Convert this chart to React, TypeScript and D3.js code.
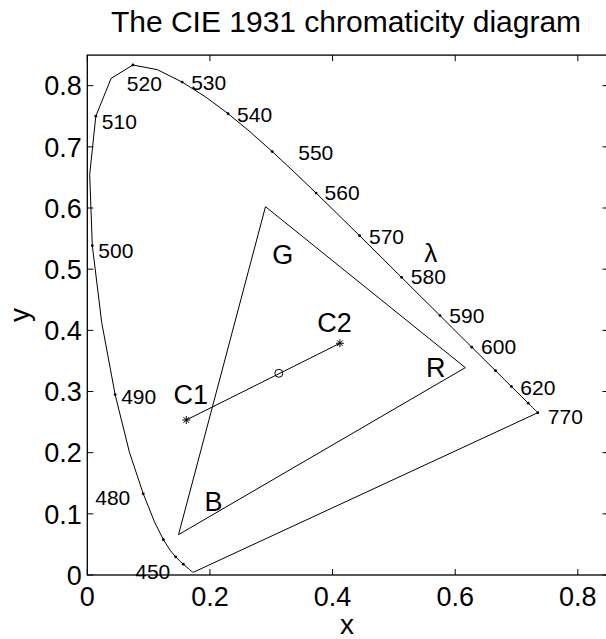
import React from "react";
import * as d3 from "d3";

// CIE 1931 2° spectral locus (x, y) at 5 nm steps, 380–700 nm, closed at 770 nm
const locusNm = [
  380, 385, 390, 395, 400, 405, 410, 415, 420, 425, 430, 435, 440, 445, 450, 455, 460, 465, 470, 475,
  480, 485, 490, 495, 500, 505, 510, 515, 520, 525, 530, 535, 540, 545, 550, 555, 560, 565, 570, 575,
  580, 585, 590, 595, 600, 605, 610, 615, 620, 625, 630, 635, 640, 645, 650, 655, 660, 665, 670, 675,
  680, 685, 690, 695, 700, 770,
];
const locusX = [
  0.1741, 0.174, 0.1738, 0.1736, 0.1733, 0.173, 0.1726, 0.1721, 0.1714, 0.1703, 0.1689, 0.1669, 0.1644,
  0.1611, 0.1566, 0.151, 0.144, 0.1355, 0.1241, 0.1096, 0.0913, 0.0687, 0.0454, 0.0235, 0.0082, 0.0039,
  0.0139, 0.0389, 0.0743, 0.1142, 0.1547, 0.1929, 0.2296, 0.2658, 0.3016, 0.3373, 0.3731, 0.4087, 0.4441,
  0.4788, 0.5125, 0.5448, 0.5752, 0.6029, 0.627, 0.6482, 0.6658, 0.6801, 0.6915, 0.7006, 0.7079, 0.714,
  0.719, 0.723, 0.726, 0.7283, 0.73, 0.7311, 0.732, 0.7327, 0.7334, 0.734, 0.7344, 0.7346, 0.7347, 0.7347,
];
const locusY = [
  0.005, 0.005, 0.0049, 0.0049, 0.0048, 0.0048, 0.0048, 0.0048, 0.0051, 0.0058, 0.0069, 0.0086, 0.0109,
  0.0138, 0.0177, 0.0227, 0.0297, 0.0399, 0.0578, 0.0868, 0.1327, 0.2007, 0.295, 0.4127, 0.5384, 0.6548,
  0.7502, 0.812, 0.8338, 0.8262, 0.8059, 0.7816, 0.7543, 0.7243, 0.6923, 0.6589, 0.6245, 0.5896, 0.5547,
  0.5202, 0.4866, 0.4544, 0.4242, 0.3965, 0.3725, 0.3514, 0.334, 0.3197, 0.3083, 0.2993, 0.292, 0.2859,
  0.2809, 0.277, 0.274, 0.2717, 0.27, 0.2689, 0.268, 0.2673, 0.2666, 0.266, 0.2656, 0.2654, 0.2653, 0.2653,
];

// wavelengths marked with a dot on the locus
const dotNm = [450, 460, 470, 480, 490, 500, 510, 520, 530, 540, 550, 560, 570, 580, 590, 600, 610, 620, 640, 770];
// wavelengths that carry a text label
const labelNm = [450, 480, 490, 500, 510, 520, 530, 540, 550, 560, 570, 580, 590, 600, 620, 770];

// primaries triangle (R, G, B)
const primaryNames = ["R", "G", "B"];
const primaryX = [0.6165, 0.2906, 0.1488];
const primaryY = [0.339, 0.6022, 0.066];

// two colours C1, C2 and their mixture
const colourNames = ["C1", "C2"];
const colourX = [0.1614, 0.412];
const colourY = [0.2534, 0.3789];
const mixX = 0.3124;
const mixY = 0.3298;

const xTicks = [0, 0.2, 0.4, 0.6, 0.8];
const yTicks = [0, 0.1, 0.2, 0.3, 0.4, 0.5, 0.6, 0.7, 0.8];

const W = 606;
const H = 639;
const FONT = "'Liberation Sans', Arial, Helvetica, sans-serif";

// label placement around each wavelength dot (pixels)
const labelOffset: Record<number, [number, number, "start" | "end"]> = {
  450: [-13, 15, "end"],
  480: [-13, 11, "end"],
  490: [6, 9.5, "start"],
  500: [6, 12, "start"],
  510: [6, 13, "start"],
  520: [-6, 26, "start"],
  530: [9, 8, "start"],
  540: [9, 8, "start"],
  550: [26, 8, "start"],
  560: [8.5, 7, "start"],
  570: [9.4, 8, "start"],
  580: [9.3, 7, "start"],
  590: [9.3, 7.7, "start"],
  600: [9.3, 6.8, "start"],
  620: [9, 8.6, "start"],
  770: [10, 11, "start"],
};

// letter anchors in chromaticity space
const letterText = ["G", "R", "B", "C1", "C2", "λ"];
const letterX = [0.3016, 0.5522, 0.1913, 0.1406, 0.3751, 0.5495];
const letterY = [0.5085, 0.3233, 0.1046, 0.2791, 0.3978, 0.5118];

export default function App() {
  const x = d3.scaleLinear().domain([0, 0.85]).range([87.3, 608.5]);
  const y = d3.scaleLinear().domain([0, 0.85]).range([575, 55.1]);

  const locus = locusNm.map((nm, i) => ({ nm, x: locusX[i], y: locusY[i] }));
  const closed = [...locus, locus[0]];
  const line = d3
    .line<{ x: number; y: number }>()
    .x((d) => x(d.x))
    .y((d) => y(d.y));

  const find = (nm: number) => locus.find((p) => p.nm === nm)!;

  const tri = primaryX.map((v, i) => ({ x: v, y: primaryY[i] }));
  const triPath = line([...tri, tri[0]]) as string;

  const seg = colourX.map((v, i) => ({ x: v, y: colourY[i] }));

  const star = (cx: number, cy: number, r: number) => {
    const d = r * Math.SQRT1_2;
    return `M${cx - r},${cy}L${cx + r},${cy}M${cx},${cy - r}L${cx},${cy + r}M${cx - d},${cy - d}L${cx + d},${cy + d}M${cx - d},${cy + d}L${cx + d},${cy - d}`;
  };

  const x0 = x(0);
  const x1 = x(0.85);
  const y0 = y(0);
  const y1 = y(0.85);
  const tick = 6;

  return (
    <svg
      width={W}
      height={H}
      style={{ position: "absolute", left: 0, top: 0, background: "#fff" }}
      fontFamily={FONT}
    >
      <rect width={W} height={H} fill="#fff" />
      <text x={346} y={32} fontSize={30} textAnchor="middle" fill="#000">
        The CIE 1931 chromaticity diagram
      </text>

      {/* spectral locus and purple line */}
      <path d={line(closed) as string} fill="none" stroke="#000" strokeWidth={1} />
      {dotNm.map((nm) => {
        const p = find(nm);
        return <circle key={nm} cx={x(p.x)} cy={y(p.y)} r={1.4} fill="#000" />;
      })}
      {labelNm.map((nm) => {
        const p = find(nm);
        const [dx, dy, anchor] = labelOffset[nm];
        return (
          <text key={nm} x={x(p.x) + dx} y={y(p.y) + dy} fontSize={21} textAnchor={anchor} fill="#000">
            {nm}
          </text>
        );
      })}

      {/* primaries triangle */}
      <path d={triPath} fill="none" stroke="#000" strokeWidth={1} />

      {/* colour segment */}
      <path d={line(seg) as string} fill="none" stroke="#000" strokeWidth={1} />
      {seg.map((p, i) => (
        <path key={colourNames[i]} d={star(x(p.x), y(p.y), 4)} stroke="#000" strokeWidth={1} fill="none" />
      ))}
      <circle cx={x(mixX)} cy={y(mixY)} r={4} fill="none" stroke="#000" strokeWidth={1} />

      {letterText.map((t, i) => (
        <text key={t} x={x(letterX[i])} y={y(letterY[i])} fontSize={t === "λ" ? 26 : 27} fill="#000">
          {t}
        </text>
      ))}

      {/* axes box with inward ticks */}
      <rect x={x0} y={y1} width={x1 - x0} height={y0 - y1} fill="none" stroke="#000" strokeWidth={1.3} />
      {xTicks.map((t) => (
        <g key={"x" + t}>
          <line x1={x(t)} x2={x(t)} y1={y0} y2={y0 - tick} stroke="#000" strokeWidth={1} />
          <line x1={x(t)} x2={x(t)} y1={y1} y2={y1 + tick} stroke="#000" strokeWidth={1} />
          <text x={x(t)} y={605.5} fontSize={27} textAnchor="middle" fill="#000">
            {String(t)}
          </text>
        </g>
      ))}
      {yTicks.map((t) => (
        <g key={"y" + t}>
          <line x1={x0} x2={x0 + tick} y1={y(t)} y2={y(t)} stroke="#000" strokeWidth={1} />
          <line x1={x1} x2={x1 - tick} y1={y(t)} y2={y(t)} stroke="#000" strokeWidth={1} />
          <text x={81.7} y={y(t) + 9.8} fontSize={27} textAnchor="end" fill="#000">
            {String(t)}
          </text>
        </g>
      ))}

      <text x={347} y={634} fontSize={28} textAnchor="middle" fill="#000">
        x
      </text>
      <text transform={`translate(29,${(y0 + y1) / 2}) rotate(-90)`} fontSize={28} textAnchor="middle" fill="#000">
        y
      </text>
    </svg>
  );
}
